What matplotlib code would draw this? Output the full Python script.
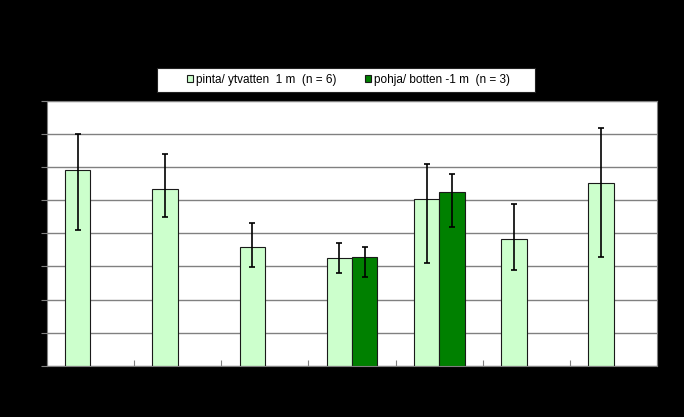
import numpy as np
import matplotlib
matplotlib.use("Agg")
from matplotlib import pyplot as plt
from matplotlib.patches import Rectangle

# values
groups = np.arange(7)
pinta = [5.92, 5.33, 3.58, 3.25, 5.03, 3.84, 5.51]
pinta_hi = [7.00, 6.40, 4.30, 3.70, 6.11, 4.90, 7.19]
pinta_lo = [4.09, 4.49, 2.99, 2.79, 3.10, 2.89, 3.30]

pohja_idx = [3, 4]
pohja = [3.28, 5.24]
pohja_hi = [3.60, 5.80]
pohja_lo = [2.69, 4.18]

y_ticks = np.arange(0, 9, 1)

plt.rcParams['font.family'] = ['Liberation Sans', 'DejaVu Sans']

fig = plt.figure(figsize=(6.84, 4.17), dpi=100, facecolor='black')
ax = fig.add_axes([0.0683, 0.123, 0.8928, 0.6348])
ax.set_facecolor('white')

w = 0.29
p_err = [np.array(pinta) - np.array(pinta_lo), np.array(pinta_hi) - np.array(pinta)]
b_err = [np.array(pohja) - np.array(pohja_lo), np.array(pohja_hi) - np.array(pohja)]

# every pinta bar sits left of the group centre, pohja bars to the right
x_p = groups - w / 2
x_b = np.array(pohja_idx) + w / 2

ax.bar(x_p, pinta, w, color='#ccffcc', edgecolor='#1a1a1a', linewidth=0.8,
       label='pinta/ ytvatten  1 m  (n = 6)', zorder=2)
ax.bar(x_b, pohja, w, color='#008000', edgecolor='#1a1a1a', linewidth=0.8,
       label='pohja/ botten -1 m  (n = 3)', zorder=2)
ax.errorbar(x_p, pinta, yerr=p_err, fmt='none', ecolor='black', elinewidth=1.2,
            capsize=2, capthick=1.2, zorder=3)
ax.errorbar(x_b, pohja, yerr=b_err, fmt='none', ecolor='black', elinewidth=1.2,
            capsize=2, capthick=1.2, zorder=3)

ax.set_xlim(-0.5, 6.5)
ax.set_ylim(0, 8)
ax.set_yticks(y_ticks)
ax.set_yticklabels([str(v) for v in y_ticks], color='black', fontsize=8)
ax.yaxis.grid(True, color='#808080', linewidth=1)
ax.set_axisbelow(True)

ax.set_xticks(np.arange(-0.5, 7, 1))
ax.set_xticklabels([])
ax.tick_params(axis='x', direction='in', length=4, color='#808080')
ax.tick_params(axis='y', direction='out', length=4, color='#808080')
for s in ax.spines.values():
    s.set_color('#808080')

# white legend box, wider than its entries as in the original
fig.patches.append(Rectangle((0.2295, 0.7794), 0.5526, 0.0576,
                             transform=fig.transFigure, facecolor='white',
                             edgecolor='#222222', linewidth=0.8, zorder=0))
leg = fig.legend(loc='center', bbox_to_anchor=(0.5095, 0.8082), ncol=2,
                 fontsize=8.5, frameon=False,
                 handlelength=0.55, handleheight=0.55, handletextpad=0.25,
                 columnspacing=2.4, borderpad=0.2)

fig.savefig('out.png', dpi=100, facecolor='black')
